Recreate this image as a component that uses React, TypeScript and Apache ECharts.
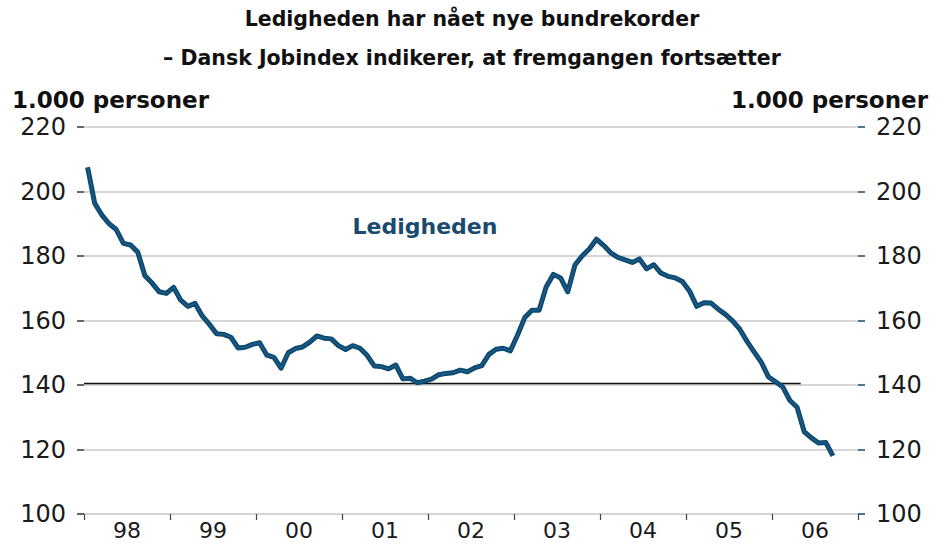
import React, { useEffect, useRef } from "react";
import * as echarts from "echarts";

// Monthly unemployment (1,000 persons), Jan 1998 – Sep 2006
const ledigheden: number[] = [
  207.5, 196.3, 192.7, 190.0, 188.2, 183.9, 183.4, 181.2, 173.9, 171.6, 168.9, 168.4,
  170.3, 166.3, 164.4, 165.3, 161.4, 158.8, 155.9, 155.7, 154.8, 151.5, 151.7, 152.6,
  153.1, 149.3, 148.6, 145.2, 150.0, 151.3, 151.8, 153.3, 155.2, 154.5, 154.3, 152.2,
  151.0, 152.2, 151.4, 149.2, 145.9, 145.7, 145.0, 146.2, 141.9, 142.1, 140.7, 141.2,
  141.8, 143.2, 143.6, 143.8, 144.6, 144.1, 145.3, 146.0, 149.5, 151.1, 151.4, 150.6,
  155.5, 160.9, 163.2, 163.2, 170.5, 174.3, 173.2, 168.9, 177.2, 180.0, 182.2, 185.2,
  183.3, 181.0, 179.6, 178.8, 178.0, 179.1, 176.0, 177.3, 174.7, 173.7, 173.2, 172.1,
  169.1, 164.4, 165.5, 165.4, 163.5, 161.9, 159.9, 157.3, 153.6, 150.3, 147.1, 142.5,
  141.0, 139.4, 135.2, 133.1, 125.5, 123.6, 122.0, 122.2, 118.0,
];

const yearLabels: string[] = ["98", "99", "00", "01", "02", "03", "04", "05", "06"];
const yTicks = { min: 100, max: 220, interval: 20 };
const refLevel = 140.5;
const refEndMonth = 100;
const titleLines: string[] = [
  "Ledigheden har nået nye bundrekorder",
  "– Dansk Jobindex indikerer, at fremgangen fortsætter",
];
const unitLabel = "1.000 personer";
const seriesLabel = "Ledigheden";

const FONT = "'DejaVu Sans', 'Noto Sans', sans-serif";
const NAVY = "#0d4a72";

export default function App() {
  const ref = useRef<HTMLDivElement>(null);

  useEffect(() => {
    if (!ref.current) return;
    const chart = echarts.init(ref.current, null, { renderer: "svg" });
    const totalMonths = yearLabels.length * 12;
    const lineData = ledigheden.map((v, i) => [i + 0.5, v]);

    chart.setOption({
      animation: false,
      backgroundColor: "#ffffff",
      textStyle: { fontFamily: FONT },
      grid: { left: 84, right: 86, top: 127, bottom: 31, containLabel: false },
      xAxis: [
        { type: "value", min: 0, max: totalMonths, show: false },
        {
          type: "category",
          data: yearLabels,
          boundaryGap: true,
          position: "bottom",
          axisLine: { show: true, lineStyle: { color: "#d4d4d4", width: 1.5 } },
          axisTick: { show: true, length: 6, lineStyle: { color: "#444", width: 1.2 } },
          axisLabel: { fontSize: 22, color: "#1a1a1a", margin: 5, fontFamily: FONT },
          splitLine: { show: false },
        },
      ],
      yAxis: [
        {
          type: "value",
          position: "left",
          min: yTicks.min,
          max: yTicks.max,
          interval: yTicks.interval,
          axisLine: { show: false },
          axisTick: { show: true, length: 7, lineStyle: { color: "#333", width: 1.5 } },
          axisLabel: { fontSize: 24, color: "#1a1a1a", margin: 18, fontFamily: FONT },
          splitLine: { show: true, lineStyle: { color: "#c8c8c8", width: 1.5 } },
        },
        {
          type: "value",
          position: "right",
          min: yTicks.min,
          max: yTicks.max,
          interval: yTicks.interval,
          axisLine: { show: false },
          axisTick: { show: true, length: 7, lineStyle: { color: NAVY, width: 1.5 } },
          axisLabel: { fontSize: 24, color: "#1a1a1a", margin: 18, fontFamily: FONT },
          splitLine: { show: false },
        },
      ],
      series: [
        {
          type: "line",
          xAxisIndex: 0,
          yAxisIndex: 0,
          data: [
            [0, refLevel],
            [refEndMonth, refLevel],
          ],
          symbol: "none",
          lineStyle: { color: "#111", width: 1.5 },
          z: 2,
          silent: true,
        },
        {
          type: "line",
          name: seriesLabel,
          xAxisIndex: 0,
          yAxisIndex: 0,
          data: lineData,
          symbol: "none",
          lineStyle: { color: NAVY, width: 5, join: "round" },
          z: 3,
        },
        {
          type: "line",
          xAxisIndex: 0,
          yAxisIndex: 0,
          data: lineData,
          symbol: "none",
          lineStyle: { color: "#3c7aa3", width: 0.8, opacity: 0.7 },
          z: 4,
          silent: true,
        },
      ],
      graphic: [
        {
          type: "text",
          x: 472,
          y: 19,
          style: {
            text: titleLines[0],
            font: `bold 20.5px ${FONT}`,
            fill: "#111",
            textAlign: "center",
            textVerticalAlign: "middle",
          },
        },
        {
          type: "text",
          x: 472,
          y: 58,
          style: {
            text: titleLines[1],
            font: `bold 20.5px ${FONT}`,
            fill: "#111",
            textAlign: "center",
            textVerticalAlign: "middle",
          },
        },
        {
          type: "text",
          x: 12,
          y: 100,
          style: {
            text: unitLabel,
            font: `bold 23px ${FONT}`,
            fill: "#111",
            textAlign: "left",
            textVerticalAlign: "middle",
          },
        },
        {
          type: "text",
          x: 928,
          y: 100,
          style: {
            text: unitLabel,
            font: `bold 23px ${FONT}`,
            fill: "#111",
            textAlign: "right",
            textVerticalAlign: "middle",
          },
        },
        {
          type: "text",
          x: 425,
          y: 226,
          style: {
            text: seriesLabel,
            font: `600 22px ${FONT}`,
            fill: "#1a4a6e",
            textAlign: "center",
            textVerticalAlign: "middle",
          },
        },
      ],
    });

    return () => chart.dispose();
  }, []);

  return (
    <div
      ref={ref}
      style={{ position: "fixed", left: 0, top: 0, width: 944, height: 545, background: "#fff" }}
    />
  );
}
